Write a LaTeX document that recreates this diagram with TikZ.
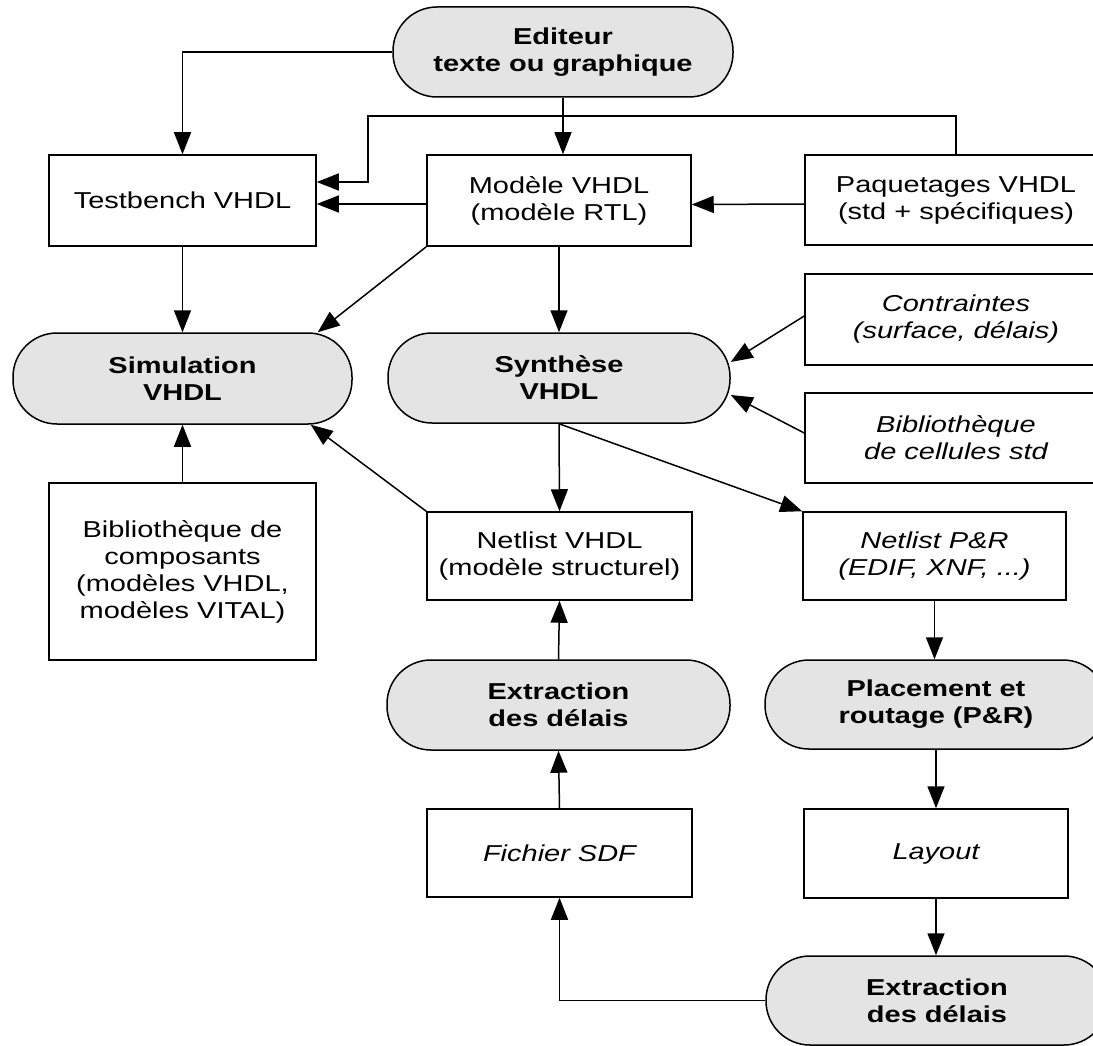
\documentclass[tikz,border=0pt]{standalone}
\usepackage{fontspec}
\setmainfont{Liberation Sans}[FakeStretch=1.26]
\usetikzlibrary{arrows.meta}
\definecolor{pillgray}{RGB}{228,228,228}
\tikzset{
  boxnode/.style={draw=black, line width=1.5pt, fill=white, align=center, inner sep=0pt,
    font=\fontsize{23}{27}\selectfont},
  itnode/.style={boxnode, font=\fontsize{23}{27}\selectfont\itshape},
  pillnode/.style={boxnode, fill=pillgray, rounded corners=44pt,
    font=\fontsize{23}{27}\selectfont\bfseries},
  arr/.style={line width=1.5pt, -{Triangle[length=22pt,width=17pt]}}
}
\begin{document}
\begin{tikzpicture}[x=1pt,y=-1pt]
\useasboundingbox (0,0) rectangle (1093,1046);
\clip (0,0) rectangle (1093,1046);
\fill[white] (0,0) rectangle (1093,1046);

\node[pillnode, minimum width=340pt, minimum height=90pt] (ed) at (563,52) {Editeur\\texte ou graphique};
\node[boxnode, minimum width=267pt, minimum height=91pt] (tb) at (182.5,200.5) {Testbench VHDL};
\node[boxnode, minimum width=264pt, minimum height=91pt] (mod) at (559,200.5) {Modèle VHDL\\(modèle RTL)};
\node[boxnode, minimum width=302pt, minimum height=90pt] (paq) at (956,200) {Paquetages VHDL\\(std + spécifiques)};
\node[pillnode, minimum width=339pt, minimum height=91pt] (sim) at (182.5,378.5) {Simulation\\VHDL};
\node[pillnode, minimum width=342pt, minimum height=90pt] (syn) at (559,378) {Synthèse\\VHDL};
\node[itnode, minimum width=302pt, minimum height=91pt] (con) at (956,319.5) {Contraintes\\(surface, délais)};
\node[itnode, minimum width=302pt, minimum height=90pt] (bibc) at (956,438) {Bibliothèque\\de cellules std};
\node[boxnode, minimum width=267pt, minimum height=177pt] (bcomp) at (182.5,571.5) {Bibliothèque de\\composants\\(modèles VHDL,\\modèles VITAL)};
\node[boxnode, minimum width=265pt, minimum height=88pt] (nv) at (559.5,556) {Netlist VHDL\\(modèle structurel)};
\node[itnode, minimum width=263pt, minimum height=88pt] (npr) at (934.5,556) {Netlist P\&R\\(EDIF, XNF, ...)};
\node[pillnode, minimum width=343pt, minimum height=90pt] (ex1) at (558.5,705) {Extraction\\des délais};
\node[pillnode, minimum width=342pt, minimum height=89pt] (pr) at (936,704.5) {Placement et\\routage (P\&R)};
\node[itnode, minimum width=265pt, minimum height=88pt] (sdf) at (559.5,853) {Fichier SDF};
\node[itnode, minimum width=264pt, minimum height=89pt] (lay) at (936,853.5) {Layout};
\node[pillnode, minimum width=342pt, minimum height=89pt] (ex2) at (937,1000.5) {Extraction\\des délais};

\coordinate (j1) at (368,116);

\draw[arr] (ed.west) -| (tb.north);
\draw[arr] (ed.south) -- (ed.south |- mod.north);
\draw[arr] (paq.north) |- (j1) |- ([yshift=18.5pt]tb.east);
\draw[arr] ([yshift=-3.5pt]mod.west) -- ([yshift=-3.5pt]tb.east);
\draw[arr] ([yshift=-4pt]paq.west) -- ([yshift=-4pt]mod.east);
\draw[arr] (tb.south) -- (sim.north);
\draw[arr] (mod.south) -- (syn.north);
\draw[arr] (mod.south west) -- ([xshift=-35pt]sim.north east);
\draw[arr] (bcomp.north) -- (sim.south);
\draw[arr] (nv.north west) -- ([xshift=-42pt]sim.south east);
\draw[arr] ([yshift=3.5pt]con.west) -- ([yshift=16pt]syn.east);
\draw[arr] ([yshift=5pt]bibc.west) -- ([yshift=-17pt]syn.east);
\draw[arr] (syn.south) -- (npr.north west);
\draw[arr] (syn.south) -- (nv.north);
\draw[arr] (ex1.north) -- (nv.south);
\draw[arr] (sdf.north) -- (ex1.south);
\draw[arr] (npr.south) -- (npr.south |- pr.north);
\draw[arr] (pr.south) -- (lay.north);
\draw[arr] (lay.south) -- (lay.south |- ex2.north);
\draw[arr] (ex2.west) -| (sdf.south);
\end{tikzpicture}
\end{document}
